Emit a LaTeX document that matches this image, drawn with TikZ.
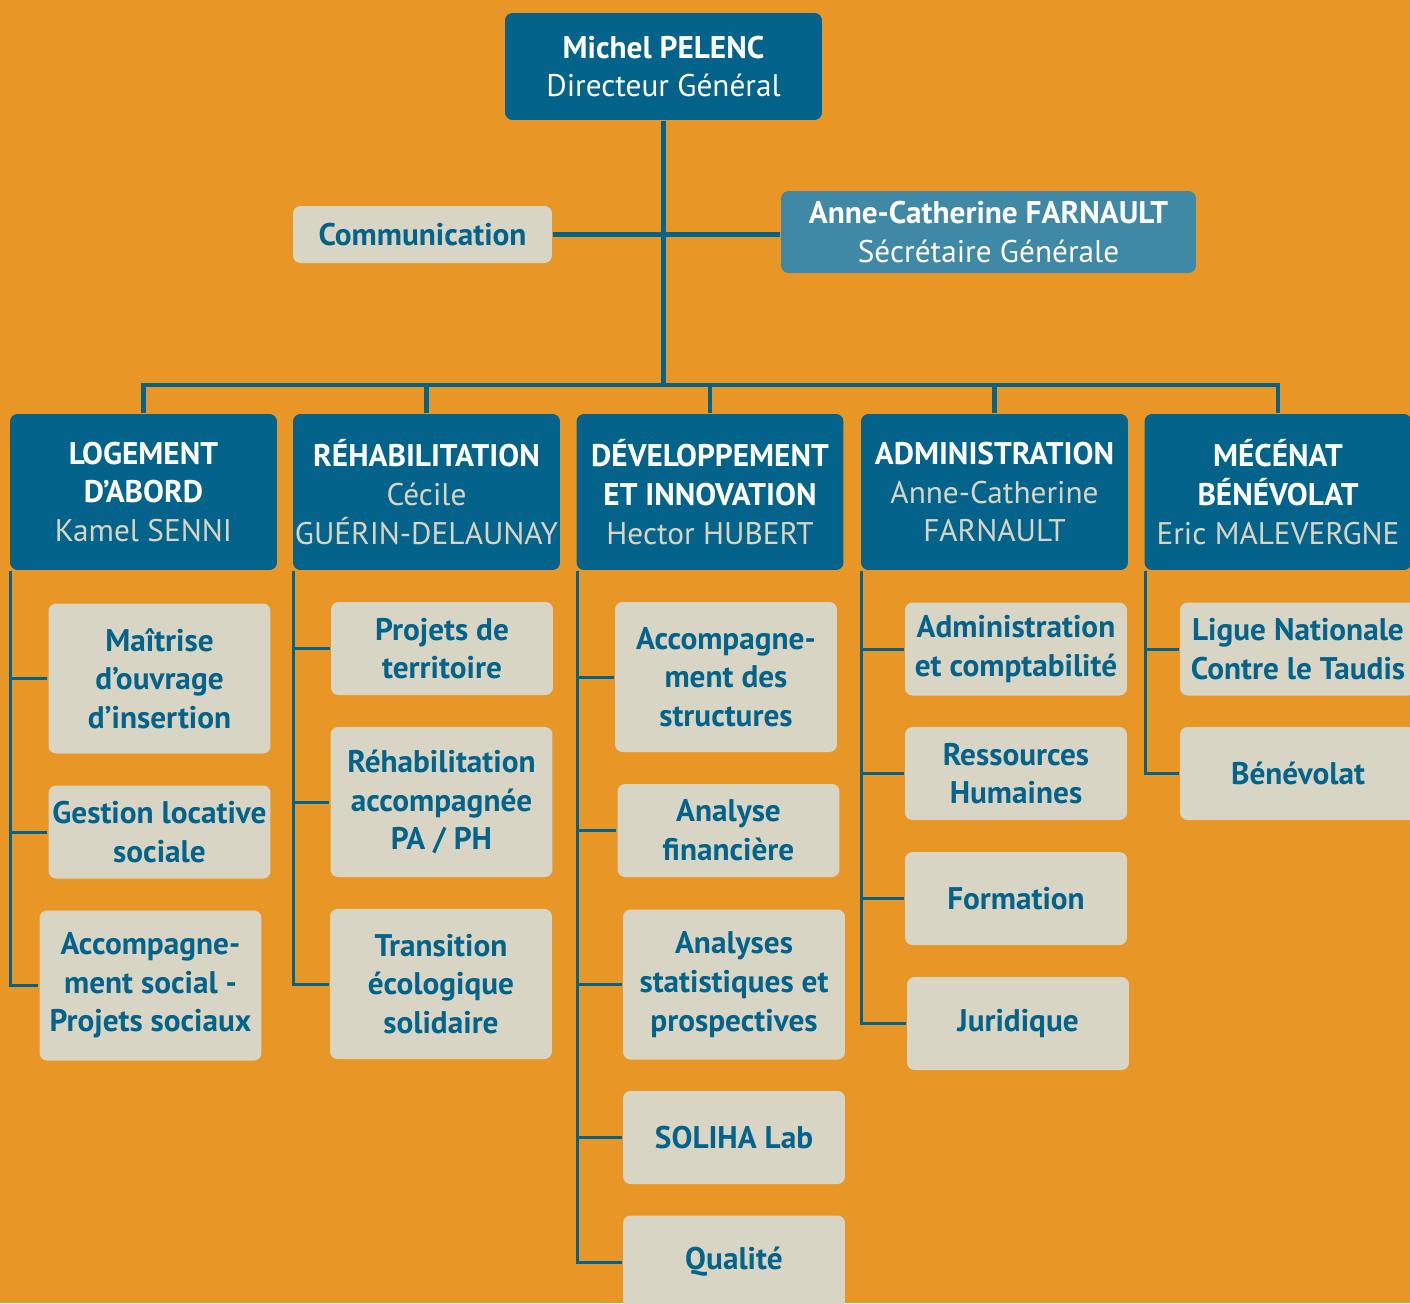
\documentclass[tikz,border=0pt]{standalone}
\usepackage{fontspec}
\setmainfont{PT Sans}
\usepackage{tikz}
\definecolor{bgorange}{RGB}{232,151,38}
\definecolor{soliblue}{RGB}{3,99,138}
\definecolor{secblue}{RGB}{63,136,166}
\definecolor{sandcolor}{RGB}{217,213,196}

\begin{document}
\begin{tikzpicture}[x = 0.02cm, y = -0.02cm,
                    line width = 1.7pt,
                    soliblue,
                    chief/.style = {rounded corners = 0.15cm,
                                    fill = soliblue,
                                    text = white,
                                    align = center,
                                    inner sep = 0pt,
                                    font = \fontsize{17.8}{22}\selectfont},
                    head/.style = {chief,
                                   minimum width = 5.34cm,
                                   minimum height = 3.12cm},
                    unit/.style = {rounded corners = 0.15cm,
                                   fill = sandcolor,
                                   text = soliblue,
                                   align = center,
                                   inner sep = 0pt,
                                   minimum width = 4.44cm,
                                   font = \fontsize{17.8}{22}\selectfont\bfseries},
                    small/.style = {unit, minimum height = 1.86cm},
                    tall/.style = {unit, minimum height = 3.0cm},
                    trunk/.style = {line width = 2.8pt}]

\useasboundingbox (0,0) rectangle (1410,1303);
\fill[bgorange] (0,0) rectangle (1410,1303);

% direction
\node[chief, minimum width = 6.34cm, minimum height = 2.14cm] (dg) at (663.5,66.5)
  {\textbf{Michel PELENC}\\Directeur Général};
\node[unit, minimum width = 5.18cm, minimum height = 1.14cm] (comm) at (422.5,234.5)
  {Communication};
\node[chief, fill = secblue, minimum width = 8.3cm, minimum height = 1.64cm] (sg) at (988.5,232)
  {\textbf{Anne-Catherine FARNAULT}\\Sécrétaire Générale};
\coordinate (bus) at (663.5,385);

% poles
\node[head] (logement) at (143.5,492)
  {\textbf{LOGEMENT}\\\textbf{D’ABORD}\\\textcolor{sandcolor}{Kamel SENNI}};
\node[head] (rehab) at (426.5,492)
  {\textbf{RÉHABILITATION}\\\textcolor{sandcolor}{Cécile}\\\textcolor{sandcolor}{GUÉRIN-DELAUNAY}};
\node[head] (dev) at (710,492)
  {\textbf{DÉVELOPPEMENT}\\\textbf{ET INNOVATION}\\\textcolor{sandcolor}{Hector HUBERT}};
\node[head] (admin) at (994.5,492)
  {\textbf{ADMINISTRATION}\\\textcolor{sandcolor}{Anne-Catherine}\\\textcolor{sandcolor}{FARNAULT}};
\node[head] (mecenat) at (1278,492)
  {\textbf{MÉCÉNAT}\\\textbf{BÉNÉVOLAT}\\\textcolor{sandcolor}{Eric MALEVERGNE}};

% services
\node[tall]  (log1) at (159.5,678.5) {Maîtrise\\d’ouvrage\\d’insertion};
\node[small] (log2) at (159.5,832)   {Gestion locative\\sociale};
\node[tall]  (log3) at (150.5,985.5) {Accompagne-\\ment social -\\Projets sociaux};

\node[small] (reh1) at (442,648.5)   {Projets de\\territoire};
\node[tall]  (reh2) at (441.5,802)   {Réhabilitation\\accompagnée\\PA / PH};
\node[tall]  (reh3) at (441,984)     {Transition\\écologique\\solidaire};

\node[tall]  (dev1) at (726,677)     {Accompagne-\\ment des\\structures};
\node[small] (dev2) at (728.5,830.5) {Analyse\\financière};
\node[tall]  (dev3) at (734,984.5)   {Analyses\\statistiques et\\prospectives};
\node[small] (dev4) at (734,1137.5)  {SOLIHA Lab};
\node[small] (dev5) at (734,1262)    {Qualité};

\node[small] (adm1) at (1016,649)    {Administration\\et comptabilité};
\node[small] (adm2) at (1016,773.5)  {Ressources\\Humaines};
\node[small] (adm3) at (1016,898.5)  {Formation};
\node[small] (adm4) at (1018,1023.5) {Juridique};

\node[small, minimum width = 4.72cm] (mec1) at (1298,649)   {Ligue Nationale\\Contre le Taudis};
\node[small, minimum width = 4.72cm] (mec2) at (1298,773.5) {Bénévolat};

% liaisons
\draw[trunk] (dg) -- (bus);
\draw[trunk] (comm.east) -- (comm.east -| sg.west);
\foreach \pole in {logement, rehab, dev, admin, mecenat}
  \draw[trunk] (\pole.north) |- (bus);

\foreach \pole/\list in {logement/{log1,log2,log3},
                         rehab/{reh1,reh2,reh3},
                         dev/{dev1,dev2,dev3,dev4,dev5},
                         admin/{adm1,adm2,adm3,adm4},
                         mecenat/{mec1,mec2}}
  \foreach \serv in \list
    \draw ([xshift = 0.04cm]\pole.south west) |- (\serv.west);

\end{tikzpicture}
\end{document}
